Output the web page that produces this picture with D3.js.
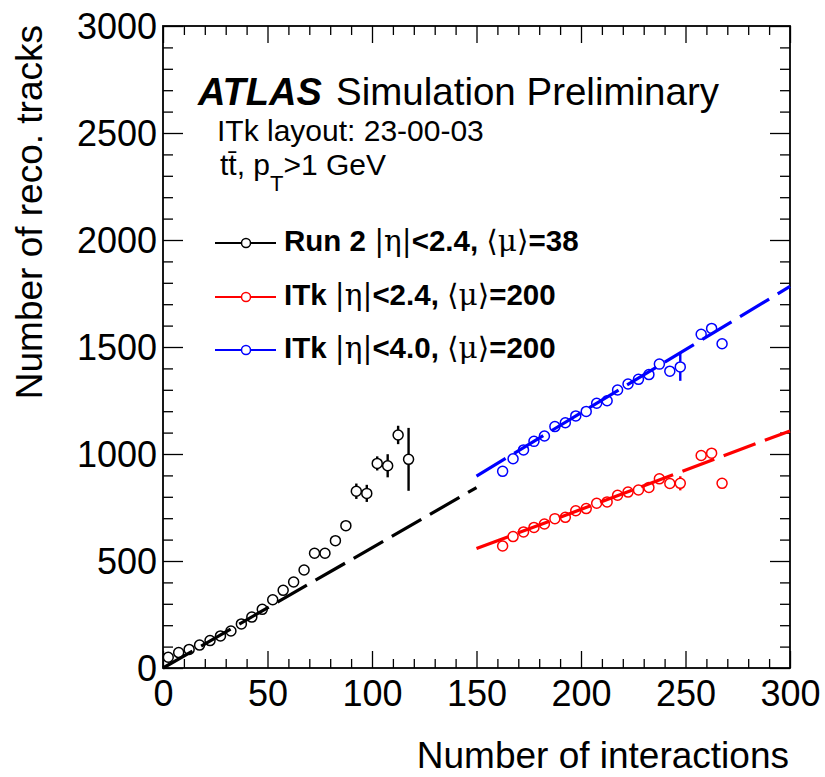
<!DOCTYPE html>
<html>
<head>
<meta charset="utf-8">
<script src="https://cdnjs.cloudflare.com/ajax/libs/d3/7.8.5/d3.min.js"></script>
<style>
   body { margin: 0; background: #fff; }
   svg { display: block; font-family: "Liberation Sans", Arial, Helvetica, sans-serif; }
   .tick line { stroke: #000; stroke-width: 1.3; }
   .domain { display: none; }
</style>
</head>
<body>
<svg id="chart" width="825" height="777"></svg>
<script>
// tick labels
var x_major_ticks = [0, 50, 100, 150, 200, 250, 300];
var y_major_ticks = [0, 500, 1000, 1500, 2000, 2500, 3000];

// Run 2 |eta|<2.4, <mu>=38
var run2_x   = [2.5, 7.5, 12.5, 17.5, 22.5, 27.5, 32.5, 37.5, 42.5, 47.5, 52.5, 57.5,
                62.5, 67.5, 72.5, 77.5, 82.5, 87.5, 92.5, 97.5, 102.5, 107.5, 112.5, 117.5];
var run2_y   = [50, 72, 87, 107, 128, 150, 173, 206, 238, 274, 319, 363,
                402, 458, 536, 536, 595, 665, 826, 816, 956, 945, 1089, 975];
var run2_err = [3, 4, 5, 5, 6, 6, 7, 7, 8, 8, 9, 10,
                11, 12, 13, 14, 16, 18, 36, 40, 33, 54, 43, 147];

// ITk |eta|<2.4, <mu>=200
var itk24_x   = [162.5, 167.5, 172.5, 177.5, 182.5, 187.5, 192.5, 197.5, 202.5, 207.5, 212.5,
                 217.5, 222.5, 227.5, 232.5, 237.5, 242.5, 247.5, 257.5, 262.5, 267.5];
var itk24_y   = [570, 614, 636, 657, 673, 698, 704, 735, 745, 770, 776,
                 807, 822, 832, 844, 884, 862, 863, 993, 1004, 863];
var itk24_err = [4, 4, 4, 5, 5, 5, 5, 5, 6, 6, 6,
                 6, 7, 7, 7, 8, 12, 33, 10, 12, 15];

// ITk |eta|<4.0, <mu>=200
var itk40_x   = [162.5, 167.5, 172.5, 177.5, 182.5, 187.5, 192.5, 197.5, 202.5, 207.5, 212.5,
                 217.5, 222.5, 227.5, 232.5, 237.5, 242.5, 247.5, 257.5, 262.5, 267.5];
var itk40_y   = [919, 978, 1019, 1059, 1084, 1128, 1146, 1178, 1199, 1237, 1249,
                 1299, 1327, 1349, 1371, 1420, 1387, 1407, 1559, 1587, 1515];
var itk40_err = [5, 5, 6, 6, 6, 7, 7, 7, 8, 8, 8,
                 9, 9, 10, 10, 11, 18, 65, 14, 22, 20];

// linear fits (end points)
var run2_fit_x  = [0, 150];
var run2_fit_y  = [0, 843];
var itk24_fit_x = [150, 300];
var itk24_fit_y = [558, 1108];
var itk40_fit_x = [150, 300];
var itk40_fit_y = [897, 1783];

var legend_labels = ['Run 2 |η|<2.4, ⟨μ⟩=38', 'ITk |η|<2.4, ⟨μ⟩=200', 'ITk |η|<4.0, ⟨μ⟩=200'];
var series_colors = ['#000000', '#ff0000', '#0000ff'];

var svg = d3.select('#chart');
var x = d3.scaleLinear().domain([0, 300]).range([163, 790]);
var y = d3.scaleLinear().domain([0, 3000]).range([668, 26]);
var marker_r = 5;

draw_axes();
draw_fit(run2_fit_x, run2_fit_y, series_colors[0]);
draw_fit(itk24_fit_x, itk24_fit_y, series_colors[1]);
draw_fit(itk40_fit_x, itk40_fit_y, series_colors[2]);
draw_points(run2_x, run2_y, run2_err, series_colors[0]);
draw_points(itk24_x, itk24_y, itk24_err, series_colors[1]);
draw_points(itk40_x, itk40_y, itk40_err, series_colors[2]);
draw_legend();
draw_labels();


function draw_axes(){
   var x_minor = d3.range(0, 301, 10).filter(function(d){ return d % 50 != 0; });
   var y_minor = d3.range(0, 3001, 100).filter(function(d){ return d % 500 != 0; });
   var g;

   // bottom
   g = svg.append('g').attr('transform', 'translate(0,' + y(0) + ')')
      .call(d3.axisBottom(x).tickValues(x_major_ticks).tickFormat(d3.format('d'))
         .tickSize(-17).tickSizeOuter(0).tickPadding(12));
   g.selectAll('text').attr('font-size', 36).attr('font-family', null).attr('fill', '#000');
   svg.append('g').attr('transform', 'translate(0,' + y(0) + ')')
      .call(d3.axisBottom(x).tickValues(x_minor).tickSize(-9).tickSizeOuter(0).tickFormat(''));
   // top
   svg.append('g').attr('transform', 'translate(0,' + y(3000) + ')')
      .call(d3.axisTop(x).tickValues(x_major_ticks).tickSize(-17).tickSizeOuter(0).tickFormat(''));
   svg.append('g').attr('transform', 'translate(0,' + y(3000) + ')')
      .call(d3.axisTop(x).tickValues(x_minor).tickSize(-9).tickSizeOuter(0).tickFormat(''));

   // left
   g = svg.append('g').attr('transform', 'translate(' + x(0) + ',0)')
      .call(d3.axisLeft(y).tickValues(y_major_ticks).tickFormat(d3.format('d'))
         .tickSize(-20).tickSizeOuter(0).tickPadding(6));
   g.selectAll('text').attr('font-size', 36).attr('font-family', null).attr('fill', '#000').attr('dy', '0.36em');
   svg.append('g').attr('transform', 'translate(' + x(0) + ',0)')
      .call(d3.axisLeft(y).tickValues(y_minor).tickSize(-10).tickSizeOuter(0).tickFormat(''));
   // right
   svg.append('g').attr('transform', 'translate(' + x(300) + ',0)')
      .call(d3.axisRight(y).tickValues(y_major_ticks).tickSize(-20).tickSizeOuter(0).tickFormat(''));
   svg.append('g').attr('transform', 'translate(' + x(300) + ',0)')
      .call(d3.axisRight(y).tickValues(y_minor).tickSize(-10).tickSizeOuter(0).tickFormat(''));

   // frame
   svg.append('rect')
      .attr('x', x(0)).attr('y', y(3000))
      .attr('width', x(300) - x(0)).attr('height', y(0) - y(3000))
      .attr('fill', 'none').attr('stroke', '#000').attr('stroke-width', 1.8);
}


function draw_fit(xs, ys, color){
   var pts = xs.map(function(d, i){ return [x(d), y(ys[i])]; });
   svg.append('path')
      .attr('d', d3.line()(pts))
      .attr('fill', 'none')
      .attr('stroke', color)
      .attr('stroke-width', 3.2)
      .attr('stroke-dasharray', '34,10');
}


function draw_points(xs, ys, errs, color){
   var g = svg.append('g');
   for (i = 0; i < xs.length; i++) {
      var cx = x(xs[i]), cy = y(ys[i]);
      var hi = y(ys[i] + errs[i]), lo = y(ys[i] - errs[i]);
      if (cy - hi > marker_r) {
         g.append('line').attr('x1', cx).attr('x2', cx).attr('y1', hi).attr('y2', cy - marker_r)
            .attr('stroke', color).attr('stroke-width', 2.4);
         g.append('line').attr('x1', cx).attr('x2', cx).attr('y1', cy + marker_r).attr('y2', lo)
            .attr('stroke', color).attr('stroke-width', 2.4);
      }
      g.append('circle').attr('cx', cx).attr('cy', cy).attr('r', marker_r)
         .attr('fill', 'none').attr('stroke', color).attr('stroke-width', 1.5);
   }
}


function add_rich(text_sel, label){
   // greek letters and brackets come from a serif symbol font, not bold
   var runs = [], cur = null;
   for (var c of label) {
      var sym = '|ημ⟨⟩'.indexOf(c) >= 0;
      if (!cur || cur.sym != sym) { cur = {sym: sym, s: ''}; runs.push(cur); }
      cur.s += c;
   }
   runs.forEach(function(r){
      var t = text_sel.append('tspan').text(r.s);
      if (r.sym) t.attr('font-family', '"DejaVu Serif", "Liberation Serif", serif').attr('font-weight', 'normal');
   });
}


function draw_legend(){
   var rows = [243, 297, 350];
   for (i = 0; i < legend_labels.length; i++) {
      var ly = rows[i];
      svg.append('line').attr('x1', 215).attr('x2', 276).attr('y1', ly).attr('y2', ly)
         .attr('stroke', series_colors[i]).attr('stroke-width', 2);
      svg.append('circle').attr('cx', 246).attr('cy', ly).attr('r', 4.5)
         .attr('fill', '#fff').attr('stroke', series_colors[i]).attr('stroke-width', 1.5);
      var t = svg.append('text').attr('x', 284).attr('y', ly + 8)
         .attr('font-size', 29.5).attr('font-weight', 'bold');
      add_rich(t, legend_labels[i]);
   }
}


function draw_labels(){
   svg.append('text').attr('x', 198).attr('y', 105).attr('font-size', 38)
      .attr('font-weight', 'bold').attr('font-style', 'italic').text('ATLAS');
   svg.append('text').attr('x', 336).attr('y', 105).attr('font-size', 38.5).text('Simulation Preliminary');
   svg.append('text').attr('x', 217).attr('y', 141).attr('font-size', 30).text('ITk layout: 23-00-03');

   var t = svg.append('text').attr('x', 220).attr('y', 175).attr('font-size', 30);
   t.append('tspan').text('tt\u0304, p');
   t.append('tspan').attr('font-size', 22).attr('dy', 16).text('T');
   t.append('tspan').attr('dy', -16).text('>1 GeV');

   svg.append('text').attr('x', 789).attr('y', 768).attr('font-size', 37)
      .attr('text-anchor', 'end').text('Number of interactions');
   svg.append('text').attr('transform', 'translate(42,25) rotate(-90)').attr('font-size', 37)
      .attr('text-anchor', 'end').text('Number of reco. tracks');
}
</script>
</body>
</html>
